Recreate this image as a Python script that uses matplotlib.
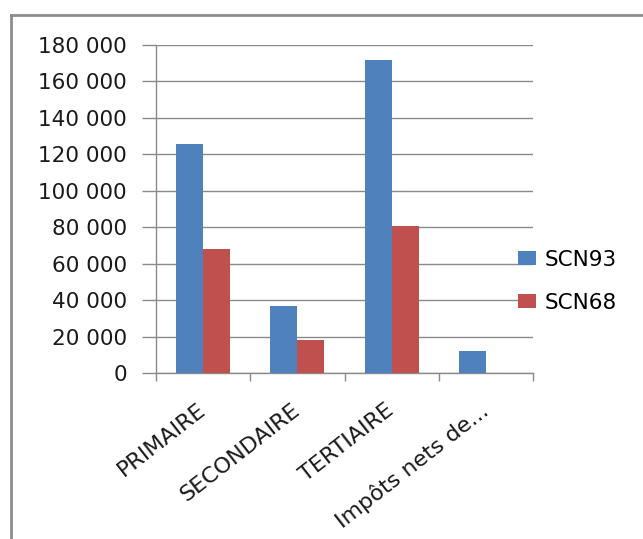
import matplotlib
matplotlib.use("Agg")
import matplotlib.pyplot as plt
from matplotlib.lines import Line2D
import numpy as np

categories = ["PRIMAIRE", "SECONDAIRE", "TERTIAIRE", "Impôts nets de..."]
scn93 = [125500, 36500, 172000, 12000]
scn68 = [68000, 18000, 80500, 0]
series_names = ["SCN93", "SCN68"]
colors = ["#4F81BD", "#C0504D"]
yticks = list(range(0, 180001, 20000))

plt.rcParams['font.family'] = ['DejaVu Sans']
W, H = 643, 539
fig = plt.figure(figsize=(W / 100, H / 100), dpi=100)
ax = fig.add_axes([156 / W, (H - 373) / H, (533 - 156) / W, (373 - 45) / H])

x = np.arange(len(categories))
bw = 1 / 3.5
ax.bar(x - bw / 2, scn93, bw, color=colors[0], label=series_names[0], zorder=3)
ax.bar(x + bw / 2, scn68, bw, color=colors[1], label=series_names[1], zorder=3)

ax.set_xlim(-0.5, len(categories) - 0.5)
ax.set_ylim(0, 180000)
ax.set_yticks(yticks)
ax.set_yticklabels([f"{v:,}".replace(",", " ") for v in yticks], fontsize=15.5, color="#1a1a1a")
ax.yaxis.grid(True, color="#8a8a8a", linewidth=1, zorder=0)
ax.set_axisbelow(True)

ax.set_xticks(np.arange(-0.5, len(categories)), labels=[])
ax.set_xticks(x, labels=categories, minor=True)
for lab in ax.get_xticklabels(minor=True):
    lab.set_rotation(38)
    lab.set_ha("right")
    lab.set_va("center")
    lab.set_rotation_mode("anchor")
    lab.set_fontsize(16)
    lab.set_color("#1a1a1a")
ax.tick_params(axis="x", which="minor", length=0, pad=25)
ax.tick_params(axis="x", which="major", length=6, color="#8a8a8a", width=1)
ax.tick_params(axis="y", length=10, color="#8a8a8a", width=1, pad=11)

for s in ["top", "right"]:
    ax.spines[s].set_visible(False)
for s in ["left", "bottom"]:
    ax.spines[s].set_color("#8a8a8a")
    ax.spines[s].set_linewidth(1)

fig.legend(loc="upper left", bbox_to_anchor=(518 / W, 1 - 250 / H), frameon=False,
           fontsize=15.5, handlelength=0.85, handleheight=0.63, handletextpad=0.4,
           labelspacing=1.05, borderpad=0, borderaxespad=0)

# outer chart frame (top and left edges)
fig.add_artist(Line2D([11 / W, 11 / W], [0, 1 - 15 / H], transform=fig.transFigure,
                      color="#8c8c8c", linewidth=2))
fig.add_artist(Line2D([11 / W, 1], [1 - 15 / H, 1 - 15 / H], transform=fig.transFigure,
                      color="#8c8c8c", linewidth=2))

fig.savefig("out.png", dpi=100, facecolor="white")
